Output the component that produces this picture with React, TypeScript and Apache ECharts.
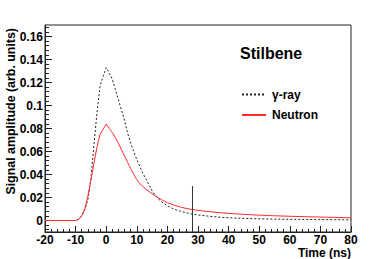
import React, { useEffect, useRef } from "react";
import * as echarts from "echarts";

const FONT = "'Liberation Sans', Arial, Helvetica, sans-serif";

const timeNs = [
  -20, -10, -9, -8, -7, -6, -5, -4, -3, -2, -1, 0, 1, 2, 3, 4, 5, 6, 7, 8, 9, 10,
  11, 12, 13, 14, 15, 16, 17, 18, 19, 20, 22, 24, 26, 28, 30, 34, 38, 42, 48, 55, 65, 80,
];
const gammaAmp = [
  0, 0, 0.001, 0.004, 0.009, 0.018, 0.036, 0.066, 0.094, 0.117, 0.1255, 0.133, 0.128, 0.123,
  0.114, 0.105, 0.096, 0.087, 0.076, 0.067, 0.06, 0.053, 0.047, 0.041, 0.036, 0.031, 0.026,
  0.022, 0.019, 0.0165, 0.0145, 0.0127, 0.0101, 0.0082, 0.0068, 0.0057, 0.0048, 0.0036,
  0.0027, 0.0021, 0.0016, 0.0012, 0.0009, 0.0006,
];
const neutronAmp = [
  0, 0, 0.001, 0.004, 0.01, 0.021, 0.035, 0.05, 0.064, 0.075, 0.0794, 0.0838, 0.0801, 0.0765,
  0.072, 0.067, 0.0615, 0.056, 0.0505, 0.0452, 0.04, 0.0355, 0.032, 0.0295, 0.0272, 0.0252,
  0.0233, 0.0215, 0.0198, 0.0183, 0.0168, 0.0155, 0.0135, 0.0119, 0.0106, 0.0096, 0.0088,
  0.0076, 0.0066, 0.0058, 0.0049, 0.0041, 0.0033, 0.0024,
];
const markerT = [28.2, 28.2];
const markerV = [-0.01, 0.03];

const yMajorTicks = [0, 0.02, 0.04, 0.06, 0.08, 0.1, 0.12, 0.14, 0.16];
const yMinorTicks = [
  -0.008, -0.004, 0, 0.004, 0.008, 0.012, 0.016, 0.02, 0.024, 0.028, 0.032, 0.036, 0.04,
  0.044, 0.048, 0.052, 0.056, 0.06, 0.064, 0.068, 0.072, 0.076, 0.08, 0.084, 0.088, 0.092,
  0.096, 0.1, 0.104, 0.108, 0.112, 0.116, 0.12, 0.124, 0.128, 0.132, 0.136, 0.14, 0.144,
  0.148, 0.152, 0.156, 0.16, 0.164, 0.168,
];
const seriesNames = ["γ-ray", "Neutron"];

export default function App() {
  const ref = useRef<HTMLDivElement>(null);
  useEffect(() => {
    if (!ref.current) return;
    const chart = echarts.init(ref.current, undefined, { renderer: "svg" });
    const axisColor = "#222";
    const labelStyle = { fontFamily: FONT, fontWeight: "bold" as const, fontSize: 12, color: "#000" };
    chart.setOption({
      animation: false,
      backgroundColor: "#fff",
      grid: {
        left: 45, top: 25, right: 31, bottom: 27,
        show: true, borderColor: axisColor, borderWidth: 1, backgroundColor: "transparent",
      },
      title: {
        text: "Stilbene", left: 240, top: 45, padding: 0,
        textStyle: { fontFamily: FONT, fontWeight: "bold", fontSize: 16, color: "#000" },
      },
      legend: {
        orient: "vertical", left: 241, top: 88.5, padding: 0,
        itemWidth: 24, itemHeight: 14, itemGap: 8.5,
        data: seriesNames,
        itemStyle: { opacity: 0 },
        textStyle: { ...labelStyle, padding: [0, 0, 0, 1] },
      },
      xAxis: {
        type: "value", min: -20, max: 80, interval: 10,
        axisLine: { show: true, onZero: false, lineStyle: { color: axisColor } },
        axisTick: { show: true, inside: true, length: 6, lineStyle: { color: axisColor } },
        minorTick: { show: true, splitNumber: 5, length: 3, lineStyle: { color: axisColor } },
        splitLine: { show: false }, minorSplitLine: { show: false },
        axisLabel: { ...labelStyle, margin: 2 },
      },
      yAxis: [
        {
          type: "value", min: -0.01, max: 0.17, position: "left",
          axisLine: { show: true, onZero: false, lineStyle: { color: axisColor } },
          axisTick: { show: true, inside: true, length: 7, customValues: yMajorTicks, lineStyle: { color: axisColor } },
          axisLabel: { ...labelStyle, margin: 2, customValues: yMajorTicks, formatter: (v: number) => String(+v.toFixed(3)) },
          splitLine: { show: false },
        },
        {
          type: "value", min: -0.01, max: 0.17, position: "left", offset: 0,
          axisLine: { show: false, onZero: false },
          axisTick: { show: true, inside: true, length: 4, customValues: yMinorTicks, lineStyle: { color: axisColor } },
          axisLabel: { show: false },
          splitLine: { show: false },
        },
      ],
      graphic: [
        {
          type: "text", x: 351, y: 253,
          style: {
            text: "Time (ns)", fontFamily: FONT, fontWeight: "bold", fontSize: 12, fill: "#000",
            align: "right", verticalAlign: "middle", textAlign: "right", textVerticalAlign: "middle",
          },
        },
        {
          type: "text", x: 11, y: 28, rotation: Math.PI / 2,
          style: {
            text: "Signal amplitude (arb. units)", fontFamily: FONT, fontWeight: "bold", fontSize: 12.4, fill: "#000",
            align: "right", verticalAlign: "middle", textAlign: "right", textVerticalAlign: "middle",
          },
        },
      ],
      series: [
        {
          name: seriesNames[0], type: "line", symbol: "none", showSymbol: false,
          data: timeNs.map((t, i) => [t, gammaAmp[i]]),
          lineStyle: { color: "#222", width: 1, type: [2, 2] },
          itemStyle: { color: "#222" },
        },
        {
          name: seriesNames[1], type: "line", symbol: "none", showSymbol: false,
          data: timeNs.map((t, i) => [t, neutronAmp[i]]),
          lineStyle: { color: "#ff2a2a", width: 1 },
          itemStyle: { color: "#ff2a2a" },
        },
        {
          name: "marker", type: "line", symbol: "none", showSymbol: false, silent: true,
          data: markerT.map((t, i) => [t, markerV[i]]),
          lineStyle: { color: "#333", width: 1 },
        },
      ],
    });
    return () => chart.dispose();
  }, []);
  return (
    <div
      ref={ref}
      style={{ position: "fixed", left: 0, top: 0, width: 382, height: 259, background: "#fff" }}
    />
  );
}
